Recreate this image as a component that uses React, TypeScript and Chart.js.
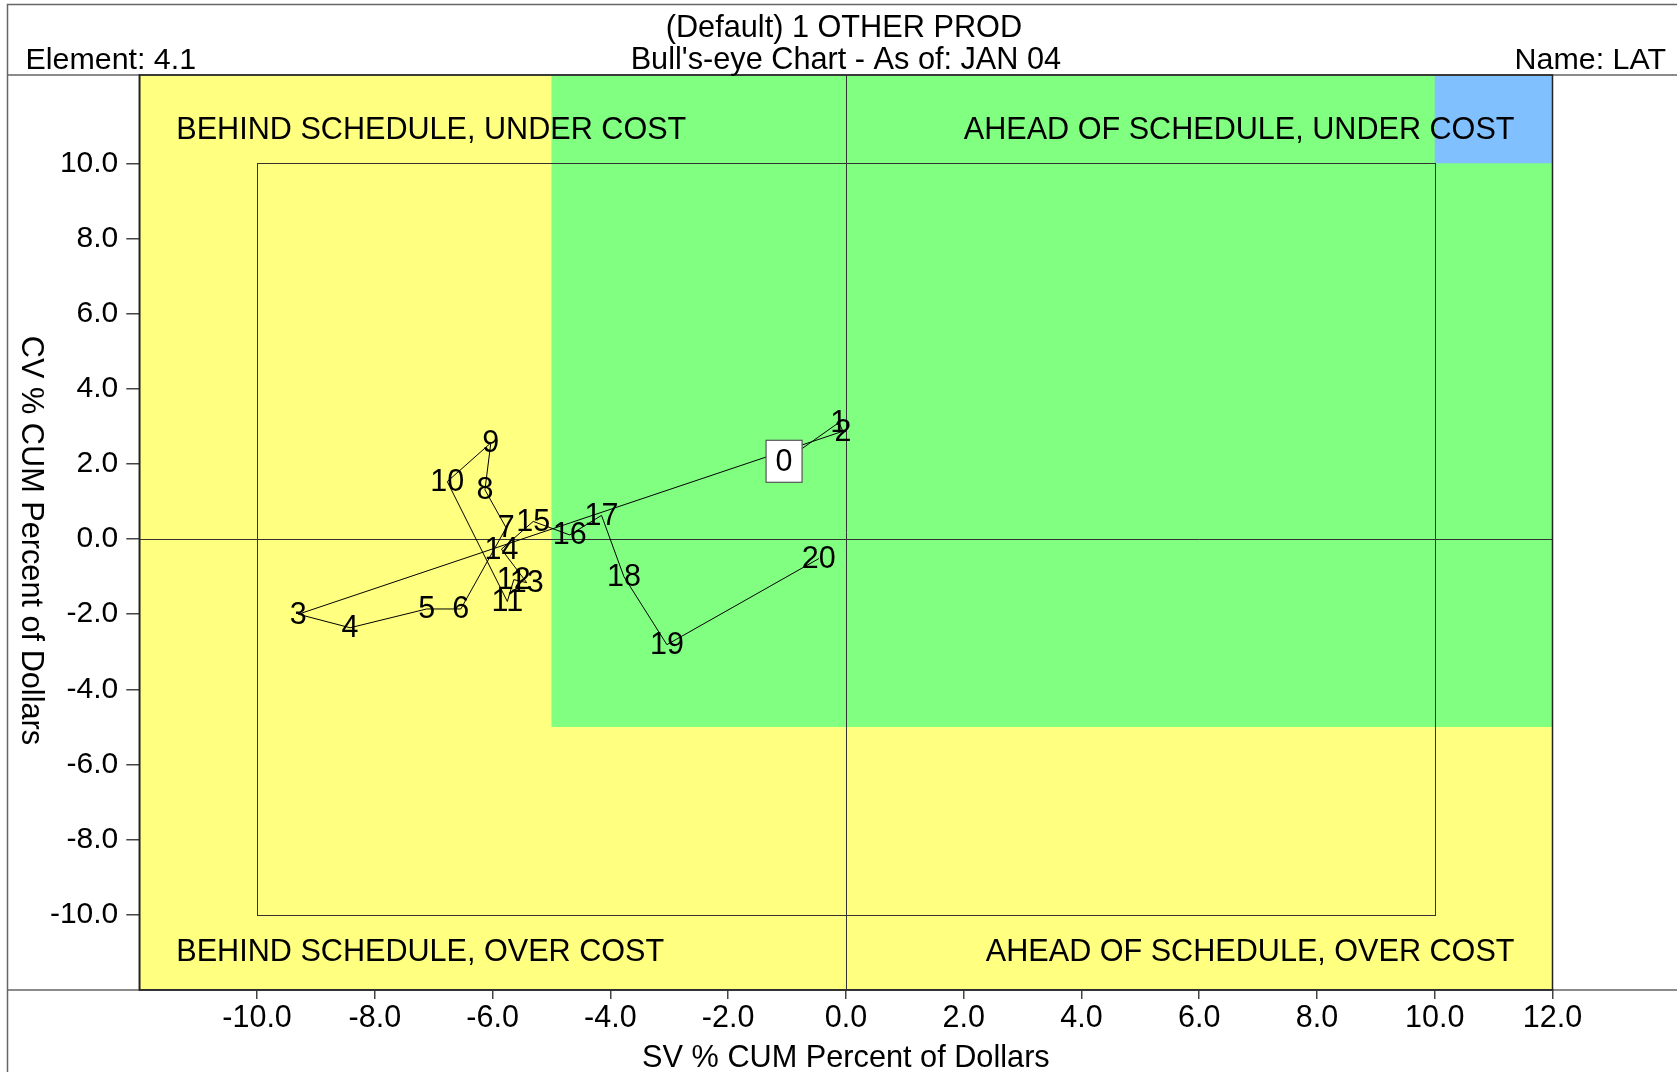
import React, { useEffect, useRef } from 'react';
import { Chart, registerables } from 'chart.js';

Chart.register(...registerables);

// ---- data ----
const pointLabels = ['0', '1', '2', '3', '4', '5', '6', '7', '8', '9', '10', '11', '12', '13', '14', '15', '16', '17', '18', '19', '20'];
const svValues = [-1.05, -0.12, -0.05, -9.3, -8.42, -7.12, -6.54, -5.77, -6.13, -6.03, -6.77, -5.75, -5.64, -5.42, -5.85, -5.31, -4.69, -4.15, -3.77, -3.04, -0.46];
const cvValues = [2.07, 3.1, 2.87, -2.0, -2.36, -1.86, -1.86, 0.3, 1.31, 2.56, 1.53, -1.66, -1.08, -1.16, -0.27, 0.47, 0.11, 0.63, -1.0, -2.81, -0.52];

const xTickValues = [-10, -8, -6, -4, -2, 0, 2, 4, 6, 8, 10, 12];
const yTickValues = [-10, -8, -6, -4, -2, 0, 2, 4, 6, 8, 10];
const xRange = [-12, 12];
const yRange = [-12, 12.35];

const greenZone = [-5, 12, -5, 12.35]; // xMin, xMax, yMin, yMax
const blueZone = [10, 12, 10, 12.35];
const targetBox = [-10, 10, -10, 10];

const titleLines = ['(Default) 1 OTHER PROD', "Bull's-eye Chart - As of: JAN 04"];
const elementText = 'Element: 4.1';
const nameText = 'Name: LAT';
const xTitle = 'SV % CUM Percent of Dollars';
const yTitle = 'CV % CUM Percent of Dollars';
const quadrantTexts = ['BEHIND SCHEDULE, UNDER COST', 'AHEAD OF SCHEDULE, UNDER COST', 'BEHIND SCHEDULE, OVER COST', 'AHEAD OF SCHEDULE, OVER COST'];

const FONT = '"Liberation Sans", Arial, Helvetica, sans-serif';
const W = 1677;
const H = 1072;

const decorPlugin = {
  id: 'decor',
  beforeDraw(chart: any) {
    const { ctx, chartArea: a, scales } = chart;
    const x = scales.x;
    const y = scales.y;
    ctx.save();
    ctx.fillStyle = '#ffffff';
    ctx.fillRect(0, 0, W, H);
    ctx.fillStyle = '#FFFF80';
    ctx.fillRect(a.left, a.top, a.right - a.left, a.bottom - a.top);
    const fillZone = (z: number[], color: string) => {
      const x1 = x.getPixelForValue(z[0]);
      const x2 = x.getPixelForValue(z[1]);
      const y1 = y.getPixelForValue(z[3]);
      const y2 = y.getPixelForValue(z[2]);
      ctx.fillStyle = color;
      ctx.fillRect(x1, y1, x2 - x1, y2 - y1);
    };
    fillZone(greenZone, '#80FF80');
    fillZone(blueZone, '#80C0FF');
    ctx.restore();
  },
  beforeDatasetsDraw(chart: any) {
    const { ctx, chartArea: a, scales } = chart;
    const x = scales.x;
    const y = scales.y;
    ctx.save();
    ctx.strokeStyle = '#333333';
    ctx.lineWidth = 1;
    // target box
    const bx1 = x.getPixelForValue(targetBox[0]);
    const bx2 = x.getPixelForValue(targetBox[1]);
    const by1 = y.getPixelForValue(targetBox[3]);
    const by2 = y.getPixelForValue(targetBox[2]);
    ctx.strokeRect(Math.round(bx1) + 0.5, Math.round(by1) + 0.5, Math.round(bx2 - bx1), Math.round(by2 - by1));
    // crosshair
    const x0 = Math.round(x.getPixelForValue(0)) + 0.5;
    const y0 = Math.round(y.getPixelForValue(0)) + 0.5;
    ctx.beginPath();
    ctx.moveTo(x0, a.top);
    ctx.lineTo(x0, a.bottom);
    ctx.moveTo(a.left, y0);
    ctx.lineTo(a.right, y0);
    ctx.stroke();

    // quadrant texts
    ctx.fillStyle = '#000';
    ctx.font = `30.6px ${FONT}`;
    ctx.textBaseline = 'alphabetic';
    ctx.textAlign = 'left';
    ctx.fillText(quadrantTexts[0], a.left + 37, a.top + 64);
    ctx.fillText(quadrantTexts[2], a.left + 37, a.bottom - 29);
    ctx.textAlign = 'right';
    ctx.fillText(quadrantTexts[1], a.right - 38, a.top + 64);
    ctx.fillText(quadrantTexts[3], a.right - 38, a.bottom - 29);
    ctx.restore();
  },
  afterDatasetsDraw(chart: any) {
    const { ctx, scales } = chart;
    const x = scales.x;
    const y = scales.y;
    ctx.save();
    ctx.font = `30.5px ${FONT}`;
    ctx.textAlign = 'center';
    ctx.textBaseline = 'middle';
    for (let i = 0; i < pointLabels.length; i++) {
      const px = x.getPixelForValue(svValues[i]);
      const py = y.getPixelForValue(cvValues[i]);
      if (i === 0) {
        ctx.fillStyle = '#ffffff';
        ctx.fillRect(px - 18, py - 21, 36, 42);
        ctx.strokeStyle = '#555555';
        ctx.lineWidth = 1.2;
        ctx.strokeRect(px - 18, py - 21, 36, 42);
      }
      ctx.fillStyle = '#000';
      ctx.fillText(pointLabels[i], px, py + 1);
    }
    ctx.restore();
  },
  afterDraw(chart: any) {
    const { ctx, chartArea: a } = chart;
    ctx.save();
    // frame lines
    ctx.strokeStyle = '#666666';
    ctx.lineWidth = 1.5;
    ctx.beginPath();
    ctx.moveTo(7.5, H);
    ctx.lineTo(7.5, 4.5);
    ctx.lineTo(W, 4.5);
    ctx.moveTo(7.5, 75);
    ctx.lineTo(W, 75);
    ctx.moveTo(7.5, a.bottom);
    ctx.lineTo(W, a.bottom);
    ctx.stroke();
    // plot border
    ctx.strokeStyle = '#222222';
    ctx.lineWidth = 1.5;
    ctx.strokeRect(a.left, a.top, a.right - a.left, a.bottom - a.top);

    // header texts
    const cx = (a.left + a.right) / 2;
    ctx.fillStyle = '#000';
    ctx.textBaseline = 'alphabetic';
    ctx.font = `30.7px ${FONT}`;
    ctx.textAlign = 'center';
    ctx.fillText(titleLines[0], cx - 2, 37);
    ctx.fillText(titleLines[1], cx, 69);
    ctx.font = `30.4px ${FONT}`;
    ctx.textAlign = 'left';
    ctx.fillText(elementText, 25.5, 69);
    ctx.textAlign = 'right';
    ctx.fillText(nameText, 1666, 69);

    // axis titles
    ctx.font = `30.7px ${FONT}`;
    ctx.textAlign = 'center';
    ctx.fillText(xTitle, cx, 1067);
    ctx.translate(22, (a.top + a.bottom) / 2 + 8);
    ctx.rotate(Math.PI / 2);
    ctx.fillText(yTitle, 0, 0);
    ctx.restore();
  },
};

export default function App() {
  const ref = useRef<HTMLCanvasElement | null>(null);
  useEffect(() => {
    if (!ref.current) return;
    const points = svValues.map((v, i) => ({ x: v, y: cvValues[i] }));
    const chart = new Chart(ref.current, {
      type: 'scatter',
      data: {
        datasets: [
          {
            data: points,
            showLine: true,
            borderColor: '#000000',
            borderWidth: 1,
            pointRadius: 0,
            pointHoverRadius: 0,
            tension: 0,
          } as any,
        ],
      },
      options: {
        animation: false,
        responsive: false,
        devicePixelRatio: 1,
        events: [],
        layout: { padding: { left: 0, top: 75, right: 124.5, bottom: 0 } },
        plugins: { legend: { display: false }, tooltip: { enabled: false }, title: { display: false } },
        scales: {
          x: {
            type: 'linear',
            min: xRange[0],
            max: xRange[1],
            afterBuildTicks: (scale: any) => {
              scale.ticks = xTickValues.map((v) => ({ value: v }));
            },
            afterFit: (scale: any) => {
              scale.height = 82;
            },
            grid: { drawOnChartArea: false, drawTicks: true, tickLength: 9, color: '#444444', lineWidth: 1.5 },
            border: { display: true, color: '#222222', width: 1.5 },
            ticks: {
              autoSkip: false,
              maxRotation: 0,
              padding: 1,
              color: '#000',
              font: { family: FONT, size: 30.5 },
              callback: (v: any) => Number(v).toFixed(1),
            },
          },
          y: {
            type: 'linear',
            min: yRange[0],
            max: yRange[1],
            afterBuildTicks: (scale: any) => {
              scale.ticks = yTickValues.map((v) => ({ value: v }));
            },
            afterFit: (scale: any) => {
              scale.width = 139.3;
            },
            grid: { drawOnChartArea: false, drawTicks: true, tickLength: 13, color: '#444444', lineWidth: 1.5 },
            border: { display: true, color: '#222222', width: 1.5 },
            ticks: {
              autoSkip: false,
              padding: 8,
              color: '#000',
              font: { family: FONT, size: 30 },
              callback: (v: any) => Number(v).toFixed(1),
            },
          },
        },
      },
      plugins: [decorPlugin],
    } as any);
    return () => chart.destroy();
  }, []);
  return (
    <div style={{ position: 'absolute', left: 0, top: 0, width: W, height: H, background: '#fff' }}>
      <canvas ref={ref} width={W} height={H} style={{ width: W, height: H, display: 'block' }} />
    </div>
  );
}
